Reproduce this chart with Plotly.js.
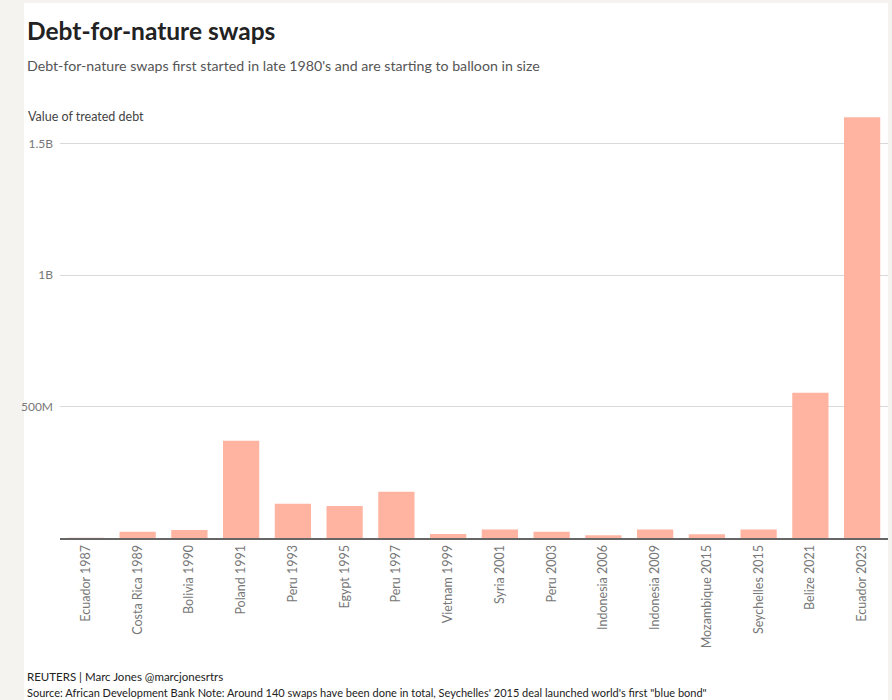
<!DOCTYPE html>
<html>
<head>
<meta charset="utf-8">
<script src="https://cdn.plot.ly/plotly-3.0.1.min.js"></script>
<style>
  html, body { margin: 0; padding: 0; background: #f4f3ef; width: 892px; height: 700px; overflow: hidden; }
  #panel { position: absolute; left: 24px; top: 3px; width: 864px; height: 697px; background: #fff; }
  #chart { position: absolute; left: 0; top: 0; width: 892px; height: 700px; }
</style>
</head>
<body>
<div id="panel"></div>
<div id="chart"></div>
<script>
const categories = ["Ecuador 1987", "Costa Rica 1989", "Bolivia 1990", "Poland 1991", "Peru 1993",
  "Egypt 1995", "Peru 1997", "Vietnam 1999", "Syria 2001", "Peru 2003", "Indonesia 2006",
  "Indonesia 2009", "Mozambique 2015", "Seychelles 2015", "Belize 2021", "Ecuador 2023"];
const treatedDebt = [0.5e6, 24e6, 30e6, 370e6, 130e6, 122e6, 176e6, 15e6, 32e6, 24e6, 10e6,
  32e6, 14e6, 32e6, 552e6, 1600e6];
const yTickVals = [500e6, 1e9, 1.5e9];
const yTickText = ["500M", "1B", "1.5B"];

const titleText = "Debt-for-nature swaps";
const subtitleText = "Debt-for-nature swaps first started in late 1980's and are starting to balloon in size";
const yLabelText = "Value of treated debt";
const creditText = "REUTERS | Marc Jones @marcjonesrtrs";
const sourceText = "Source: African Development Bank Note: Around 140 swaps have been done in total, Seychelles' 2015 deal launched world's first \"blue bond\"";

// page-to-paper helpers
const DW = 892, DH = 700;
const M = { l: 60, r: 4, t: 112, b: 161.7 };
const PW = DW - M.l - M.r, PH = DH - M.t - M.b;
const px = X => (X - M.l) / PW;
const py = Y => 1 - (Y - M.t) / PH;

const FONT = "Lato, 'Noto Sans', sans-serif";

const trace = {
  type: "bar",
  x: categories,
  y: treatedDebt,
  marker: { color: "#ffb4a2" },
  hoverinfo: "x+y"
};

const ann = (text, X, Y, size, color, extra) => Object.assign({
  text: text, xref: "paper", yref: "paper", x: px(X), y: py(Y),
  xanchor: "left", yanchor: "middle", showarrow: false,
  font: { family: FONT, size: size, color: color }
}, extra || {});

const layout = {
  width: DW, height: DH,
  margin: M,
  paper_bgcolor: "rgba(0,0,0,0)",
  plot_bgcolor: "#ffffff",
  bargap: 0.3,
  showlegend: false,
  font: { family: FONT },
  xaxis: {
    type: "category",
    tickangle: -90,
    tickfont: { family: FONT, size: 12.5, color: "#777" },
    showline: true, linecolor: "#666", linewidth: 2,
    ticks: "", ticklen: 0,
    showgrid: false, zeroline: false,
    automargin: false
  },
  yaxis: {
    range: [0, 1.62e9],
    tickmode: "array", tickvals: yTickVals, ticktext: yTickText,
    tickfont: { family: FONT, size: 12, color: "#777" },
    showgrid: true, gridcolor: "#d9d9d9", gridwidth: 1,
    zeroline: false, showline: false, ticks: "",
    ticklabelstandoff: 6,
    automargin: false
  },
  annotations: [
    ann("<b>" + titleText + "</b>", 25, 30, 24.5, "#222"),
    ann(subtitleText, 25, 65, 14.2, "#555"),
    ann(yLabelText, 26, 117, 12.5, "#444"),
    ann(creditText, 25, 677, 11.5, "#222"),
    ann(sourceText, 25, 693, 11, "#222")
  ]
};

Plotly.newPlot("chart", [trace], layout, { displayModeBar: false, staticPlot: true });
</script>
</body>
</html>
